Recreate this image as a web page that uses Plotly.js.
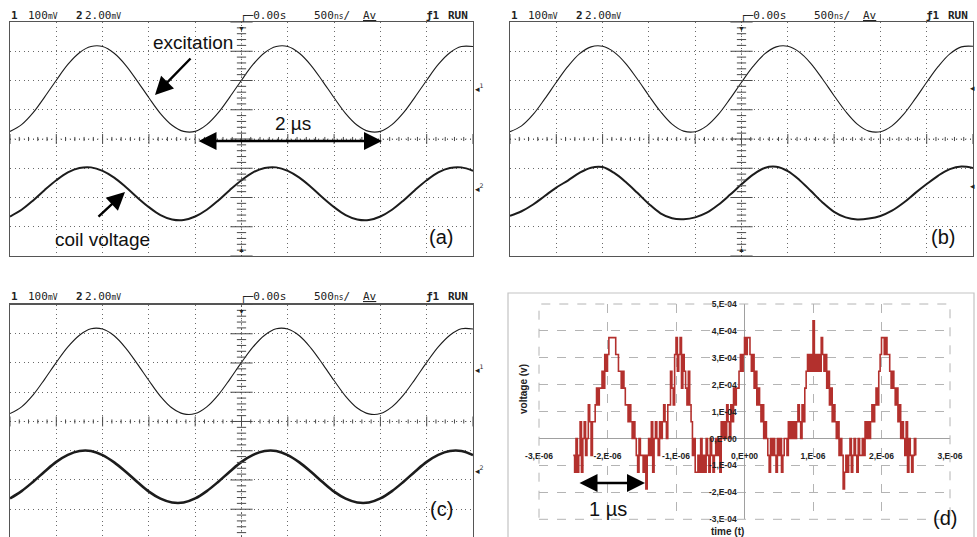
<!DOCTYPE html>
<html><head><meta charset="utf-8">
<script src="https://cdn.plot.ly/plotly-3.0.1.min.js"></script>
<style>html,body{margin:0;padding:0;background:#fff;} #chart{width:977px;height:537px;}</style>
</head><body><div id="chart"></div>
<script>
// ---- oscilloscope screens: time in µs (500 ns/div), values in screen divisions ----
const scopeTime = [-2.5,-2.375,-2.25,-2.125,-2.0,-1.875,-1.75,-1.625,-1.5,-1.375,-1.25,-1.125,-1.0,-0.875,-0.75,-0.625,-0.5,-0.375,-0.25,-0.125,0,0.125,0.25,0.375,0.5,0.625,0.75,0.875,1.0,1.125,1.25,1.375,1.5,1.625,1.75,1.875,2.0,2.125,2.25,2.375,2.5];

const excitationA = [0.26,0.49,0.90,1.44,2.01,2.55,2.95,3.16,3.16,2.93,2.52,1.98,1.41,0.87,0.47,0.26,
  0.26,0.49,0.90,1.44,2.01,2.55,2.95,3.16,3.16,2.93,2.52,1.98,1.41,0.87,0.47,0.26,
  0.26,0.49,0.90,1.44,2.01,2.55,2.95,3.16,3.16];
const coilA = [-2.65,-2.42,-2.10,-1.74,-1.41,-1.14,-0.99,-0.97,-1.09,-1.32,-1.64,-2.00,-2.33,-2.60,-2.75,-2.77,
  -2.65,-2.42,-2.10,-1.74,-1.41,-1.14,-0.99,-0.97,-1.09,-1.32,-1.64,-2.00,-2.33,-2.60,-2.75,-2.77,
  -2.65,-2.42,-2.10,-1.74,-1.41,-1.14,-0.99,-0.97,-1.09];

const excitationB = [0.25,0.45,0.84,1.37,1.94,2.48,2.91,3.15,3.17,2.97,2.58,2.05,1.48,0.94,0.51,0.27,
  0.25,0.45,0.84,1.37,1.94,2.48,2.91,3.15,3.17,2.97,2.58,2.05,1.48,0.94,0.51,0.27,
  0.25,0.45,0.84,1.37,1.94,2.48,2.91,3.15,3.17];
const coilB = [-2.63,-2.47,-2.24,-1.95,-1.66,-1.42,-1.16,-0.98,-0.96,-1.16,-1.47,-1.84,-2.22,-2.54,-2.71,-2.74,
  -2.68,-2.52,-2.25,-1.91,-1.55,-1.22,-0.99,-0.95,-1.10,-1.40,-1.78,-2.17,-2.49,-2.68,-2.75,-2.72,
  -2.63,-2.45,-2.18,-1.85,-1.54,-1.25,-1.03,-0.94,-0.99];

const excitationC = [0.27,0.50,0.91,1.45,2.02,2.55,2.95,3.17,3.16,2.93,2.51,1.97,1.40,0.86,0.46,0.26,
  0.27,0.50,0.91,1.45,2.02,2.55,2.95,3.17,3.16,2.93,2.51,1.97,1.40,0.86,0.46,0.26,
  0.27,0.50,0.91,1.45,2.02,2.55,2.95,3.17,3.16];
const coilC = [-2.63,-2.38,-2.06,-1.71,-1.38,-1.14,-1.01,-1.01,-1.15,-1.40,-1.72,-2.07,-2.40,-2.64,-2.77,-2.77,
  -2.63,-2.38,-2.06,-1.71,-1.38,-1.14,-1.01,-1.01,-1.15,-1.40,-1.72,-2.07,-2.40,-2.64,-2.77,-2.77,
  -2.63,-2.38,-2.06,-1.71,-1.38,-1.14,-1.01,-1.01,-1.15];

// ---- panel (d): sampled coil voltage, time axis in µs, voltage in units of 1E-04 V ----
const dStart = -2.5;   // µs
const dStep = 0.02;    // µs
const dVoltage = [
 -0.625,-1.25,0,-1.25,-0.625,  0.625,-1.25,0,0.625,-0.625,  0,1.25,0.625,-0.625,0.625,  0.625,1.25,1.875,1.25,1.875,
 1.875,2.5,1.875,3.125,2.5,  3.125,3.75,3.75,3.75,3.75,  3.75,3.125,3.125,2.5,2.5,  1.875,2.5,1.875,1.25,1.25,
 0.625,1.25,0.625,0,0.625,  0,-0.625,-1.25,0,-0.625,  -0.625,-1.25,-0.625,-1.875,-0.625,  0,-0.625,0.625,-1.25,0,
 0.625,0,-0.625,0.625,0,  0.625,1.25,0.625,0,1.25,  1.25,2.5,1.875,1.25,3.125,  3.75,2.5,3.125,3.75,1.875,
 3.125,2.5,1.875,1.25,2.5,  1.25,0.625,-0.625,0,-1.25,  -1.25,-0.625,-1.25,0,-1.25,  -0.625,-1.25,0,-0.625,-1.25,
 0,-0.625,-1.25,-0.625,0,  -0.625,0,-1.25,0.625,0,  0.625,0,1.25,0.625,0,  1.25,0.625,1.875,1.25,1.875,
 1.875,2.5,3.125,2.5,3.125,  3.75,3.125,3.75,3.75,3.125,  2.5,3.125,1.875,2.5,1.25,  1.875,1.25,0.625,1.25,0,
 0.625,0,-0.625,-1.25,0,  -0.625,0,-0.625,-1.25,0,  -0.625,0,-1.25,-0.625,0,  0,-0.625,0.625,0,0.625,
 0,0.625,0,0.625,1.25,  0.625,0,1.25,0.625,1.875,  2.5,3.125,2.5,3.125,2.5,  4.375,2.5,3.125,2.5,3.125,
 2.5,3.75,3.125,2.5,3.125,  1.875,2.5,1.25,1.875,0.625,  1.25,0.625,0,0.625,-0.625,  0,-0.625,-1.875,-1.25,-0.625,
 -1.25,-0.625,0,-1.25,-0.625,  0,-0.625,-1.25,0,-0.625,  -0.625,0,-0.625,0.625,0,  0.625,0,0.625,1.25,0.625,
 1.25,1.875,1.25,2.5,3.125,  3.75,3.75,3.125,3.75,3.125,  3.125,2.5,1.875,2.5,1.875,  1.25,1.875,0.625,1.25,0,
 0.625,0,-0.625,0.625,-1.25,  0,-0.625,-1.25,-0.625,0,  -0.625
];
const dTickVals = [-3,-2,-1,0,1,2,3];
const dTickText = ['-3,E-06','-2,E-06','-1,E-06','0,E+00','1,E-06','2,E-06','3,E-06'];
const vTickVals = [-3,-2,-1,0,1,2,3,4,5];
const vTickText = ['-3,E-04','-2,E-04','-1,E-04','0,E+00','1,E-04','2,E-04','3,E-04','4,E-04','5,E-04'];

// ---------------------------------------------------------------
const W = 977, H = 537;
const px = x => x / W, py = y => 1 - y / H;

const traces = [];
function scopeTraces(xa, ya, exc, coil, coilW) {
  traces.push({x: scopeTime, y: exc, xaxis: xa, yaxis: ya, mode: 'lines',
    line: {color: '#1c1c1c', width: 1.1, shape: 'spline', smoothing: 1}, hoverinfo: 'skip'});
  traces.push({x: scopeTime, y: coil, xaxis: xa, yaxis: ya, mode: 'lines',
    line: {color: '#1c1c1c', width: coilW, shape: 'spline', smoothing: 1}, hoverinfo: 'skip'});
}
scopeTraces('x', 'y', excitationA, coilA, 2.0);
scopeTraces('x2', 'y2', excitationB, coilB, 2.0);
scopeTraces('x3', 'y3', excitationC, coilC, 2.6);
traces.push({x0: dStart, dx: dStep, y: dVoltage, xaxis: 'x4', yaxis: 'y4', mode: 'lines',
  line: {color: '#b3302d', width: 1.6, shape: 'hv'}, hoverinfo: 'skip'});

const gridDots = '1px,3.6px';
function scopeX(d) {
  return {domain: d, range: [-2.5, 2.5], dtick: 0.5, tick0: 0, showgrid: true, gridcolor: '#6a6a6a',
    griddash: gridDots, gridwidth: 1, zeroline: false, showline: true, linecolor: '#555', linewidth: 1.4,
    mirror: true, ticks: '', showticklabels: false, fixedrange: true};
}
function scopeY(d, r, anchor) {
  return {domain: d, range: r, dtick: 1, tick0: 0, showgrid: true, gridcolor: '#6a6a6a',
    griddash: gridDots, gridwidth: 1, zeroline: false, showline: true, linecolor: '#555', linewidth: 1.4,
    mirror: true, ticks: '', showticklabels: false, fixedrange: true, anchor: anchor};
}
const topDom = [py(256), py(22)];
const dY0 = py(519.3), dY1 = py(304);
const dX0 = px(539), dX1 = px(950);

const shapes = [];
const annotations = [];

function centerCross(xr, yr, ymin) {
  const st = {color: '#4a4a4a', width: 1};
  shapes.push({type: 'line', xref: xr, yref: yr, x0: -2.5, x1: 2.5, y0: 0, y1: 0, line: {color: '#555', width: 1, dash: gridDots}});
  shapes.push({type: 'line', xref: xr, yref: yr, x0: 0, x1: 0, y0: ymin, y1: 4, line: {color: '#555', width: 1, dash: gridDots}});
  for (let k = -25; k <= 25; k++) {
    const h = (k % 5 === 0) ? 0.17 : 0.07;
    shapes.push({type: 'line', xref: xr, yref: yr, x0: k / 10, x1: k / 10, y0: -h, y1: h, line: st});
  }
  for (let k = -20; k <= 20; k++) {
    if (k / 5 < ymin) continue;
    const w = (k % 5 === 0) ? 0.12 : 0.05;
    shapes.push({type: 'line', xref: xr, yref: yr, x0: -w, x1: w, y0: k / 5, y1: k / 5, line: st});
  }
}
centerCross('x', 'y', -4);
centerCross('x2', 'y2', -4);
centerCross('x3', 'y3', -3.95);

// panel (d) frames
shapes.push({type: 'rect', xref: 'x4 domain', yref: 'y4 domain', x0: 0, x1: 1, y0: 0, y1: 1,
  line: {color: '#b4b4b4', width: 1, dash: 'dash'}});
shapes.push({type: 'rect', xref: 'paper', yref: 'paper', x0: px(508), x1: px(974), y0: -0.05, y1: py(293),
  line: {color: '#c4c4c4', width: 1.2}});

// scope header lines
const monoFont = {family: 'DejaVu Sans Mono', size: 11, color: '#222'};
const headerItems = [
  {x: 9, t: '<b>1</b>'},
  {x: 26, t: '100<span style="font-size:8px">mV</span>'},
  {x: 74, t: '<b>2</b>'},
  {x: 83, t: '2.00<span style="font-size:8px">mV</span>'},
  {x: 238, t: '┌─0.00s'},
  {x: 312, t: '500<span style="font-size:8px">ns</span>/'},
  {x: 361, t: '<span style="text-decoration:underline">Av</span>'},
  {x: 424, t: '<b>ƒ1</b>'},
  {x: 446, t: '<b>RUN</b>'}
];
function header(dx, dy) {
  headerItems.forEach(it => annotations.push({xref: 'paper', yref: 'paper', x: px(it.x + dx), y: py(15 + dy),
    xanchor: 'left', yanchor: 'middle', text: it.t, showarrow: false, font: monoFont}));
}
header(0, 0); header(500, 0); header(0, 281);

function trig(xr, yr, yv, up) {
  annotations.push({xref: xr, yref: yr, x: 0, y: yv, text: up ? '▲' : '▼', showarrow: false,
    yanchor: up ? 'bottom' : 'top', font: {size: 7, color: '#222'}});
}
trig('x', 'y', 4, false); trig('x', 'y', -4, true);
trig('x2', 'y2', 4, false); trig('x2', 'y2', -4, true);
trig('x3', 'y3', 4, false);

function mark(x, y, t) {
  annotations.push({xref: 'paper', yref: 'paper', x: px(x), y: py(y), xanchor: 'left', yanchor: 'middle',
    text: t, showarrow: false, font: {family: 'DejaVu Sans', size: 9, color: '#222'}});
}
mark(473, 88, '◂<sup>1</sup>'); mark(473, 188, '◂<sup>2</sup>');
mark(473, 369, '◂<sup>1</sup>'); mark(473, 470, '◂<sup>2</sup>');
mark(968, 88, '◂'); mark(968, 186, '◂');

// text labels
const sans = (s) => ({family: 'Liberation Sans, Arial, sans-serif', size: s, color: '#111'});
function label(x, y, t, s) {
  annotations.push({xref: 'paper', yref: 'paper', x: px(x), y: py(y), text: t, showarrow: false,
    xanchor: 'center', yanchor: 'middle', font: sans(s)});
}
label(193, 43, 'excitation', 19);
label(293, 123, '2 µs', 19);
label(102, 240, 'coil voltage', 19);
label(441, 237, '(a)', 20);
label(943, 237, '(b)', 20);
label(441, 509, '(c)', 20);
label(945, 518, '(d)', 20);
label(608, 509, '1 µs', 20);

function arrow(hx, hy, tx, ty, both) {
  annotations.push({xref: 'paper', yref: 'paper', x: px(hx), y: py(hy), ax: tx - hx, ay: ty - hy,
    text: '', showarrow: true, arrowhead: 2, arrowsize: 1.5, arrowwidth: 2.4, arrowcolor: '#000',
    arrowside: both ? 'end+start' : 'end', startarrowhead: 2, startarrowsize: 1.5});
}
arrow(155, 95, 192, 57, false);
arrow(125, 192, 97, 218, false);
arrow(382, 141, 197, 141, true);
arrow(645, 483, 578, 483, true);

// panel (d) axis titles
annotations.push({xref: 'paper', yref: 'paper', x: px(523), y: py(416), text: '<b>voltage (v)</b>', textangle: -90,
  showarrow: false, font: {family: 'Liberation Sans, Arial', size: 10, color: '#222'}});
annotations.push({xref: 'paper', yref: 'paper', x: px(746), y: py(531), yanchor: 'middle', text: '<b>time (t)</b>',
  showarrow: false, font: {family: 'Liberation Sans, Arial', size: 10, color: '#222'}});

const dTickFont = {family: 'Liberation Sans, Arial', size: 8.5, color: '#222'};
const layout = {
  width: W, height: H, margin: {l: 0, r: 0, t: 0, b: 0},
  paper_bgcolor: '#fff', plot_bgcolor: 'rgba(0,0,0,0)', showlegend: false,
  xaxis: scopeX([px(10), px(473)]),
  yaxis: scopeY(topDom, [-4, 4], 'x'),
  xaxis2: Object.assign(scopeX([px(510), px(973)]), {anchor: 'y2'}),
  yaxis2: scopeY(topDom, [-4, 4], 'x2'),
  xaxis3: Object.assign(scopeX([px(10), px(473)]), {anchor: 'y3'}),
  yaxis3: scopeY([0, py(304.5)], [-3.95, 4], 'x3'),
  xaxis4: {domain: [dX0, dX1], range: [-3, 3], tickvals: dTickVals, ticktext: dTickText.map(s => '<b>' + s + '</b>'),
    showgrid: true, gridcolor: '#b4b4b4', griddash: 'dash', gridwidth: 1,
    zeroline: true, zerolinecolor: '#a0a0a0', zerolinewidth: 1.4,
    anchor: 'free', position: dY0 + (3 / 8) * (dY1 - dY0), showline: false,
    ticks: 'outside', ticklen: 9, tickcolor: 'rgba(0,0,0,0)', tickfont: dTickFont, fixedrange: true},
  yaxis4: {domain: [dY0, dY1], range: [-3, 5], tickvals: vTickVals, ticktext: vTickText.map(s => '<b>' + s + '</b>'),
    showgrid: true, gridcolor: '#b4b4b4', griddash: 'dash', gridwidth: 1,
    zeroline: true, zerolinecolor: '#a0a0a0', zerolinewidth: 1.4,
    anchor: 'free', position: dX0 + 0.5 * (dX1 - dX0), side: 'left', showline: false,
    ticks: 'outside', ticklen: 6, tickcolor: 'rgba(0,0,0,0)', tickfont: dTickFont, fixedrange: true},
  shapes: shapes,
  annotations: annotations
};
Plotly.newPlot('chart', traces, layout, {staticPlot: true, displayModeBar: false});
</script>
</body></html>
